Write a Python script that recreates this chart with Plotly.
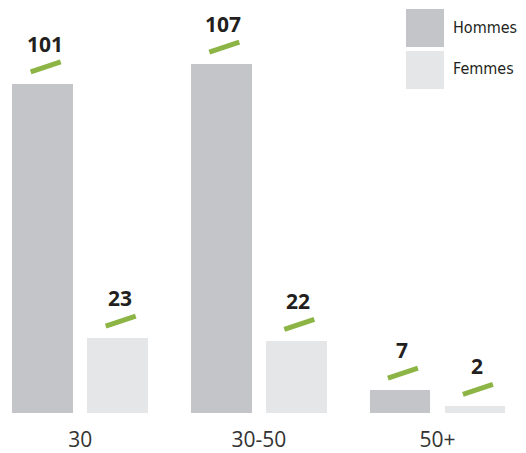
import plotly.graph_objects as go

categories = ["30", "30-50", "50+"]
series_names = ["Hommes", "Femmes"]
hommes = [101, 107, 7]
femmes = [23, 22, 2]

colors = ["#c4c5c8", "#e5e6e8"]
green = "#8cb545"
offsets = [-0.21, 0.21]
xpos = list(range(len(categories)))

fig = go.Figure()
shapes = []
annotations = []
for s, (name, vals) in enumerate(zip(series_names, [hommes, femmes])):
    xs = [x + offsets[s] for x in xpos]
    fig.add_trace(go.Bar(x=xs, y=vals, width=0.34, name=name,
                         marker=dict(color=colors[s], line=dict(width=0)),
                         showlegend=False, hoverinfo="y"))
    for x, v in zip(xs, vals):
        annotations.append(dict(x=x, y=v, xref="x", yref="y", text=f"<b>{v}</b>",
                                showarrow=False, xanchor="center", yanchor="middle",
                                xshift=2, yshift=40,
                                font=dict(family="Open Sans", size=21, color="#231f20")))
        shapes.append(dict(type="line", xref="x", yref="y",
                           xsizemode="pixel", ysizemode="pixel",
                           xanchor=x, yanchor=v,
                           x0=-12, x1=18, y0=12, y1=22,
                           line=dict(color=green, width=5)))

# legend (drawn boxes)
W, H = 526, 413
leg_boxes = [(406, 9, 444, 47), (406, 51, 444, 89)]
for s, (x0, y0, x1, y1) in enumerate(leg_boxes):
    shapes.append(dict(type="rect", xref="paper", yref="paper",
                       x0=x0 / W, x1=x1 / W, y0=1 - y0 / H, y1=1 - y1 / H,
                       fillcolor=colors[s], line=dict(width=0)))
    annotations.append(dict(x=451 / W, y=1 - ((y0 + y1) / 2 - 1) / H,
                            xref="paper", yref="paper", text=series_names[s],
                            showarrow=False, xanchor="left", yanchor="middle",
                            font=dict(family="DejaVu Sans Condensed, Liberation Sans, sans-serif",
                                      size=16, color="#231f20")))

fig.update_layout(
    width=526, height=453,
    margin=dict(l=0, r=0, t=0, b=40),
    plot_bgcolor="white", paper_bgcolor="white",
    shapes=shapes, annotations=annotations,
    xaxis=dict(range=[-0.449, 2.496], tickvals=xpos, ticktext=categories,
               showgrid=False, zeroline=False, showline=False, ticks="",
               tickfont=dict(family="Open Sans", size=21, color="#333333"),
               ticklabelstandoff=12),
    yaxis=dict(range=[0, 126.7], visible=False, showgrid=False, zeroline=False),
    bargap=0,
)

fig.write_html("out.html", config={"displayModeBar": False},
               post_script="document.body.style.margin='0';document.body.style.overflow='hidden';")
